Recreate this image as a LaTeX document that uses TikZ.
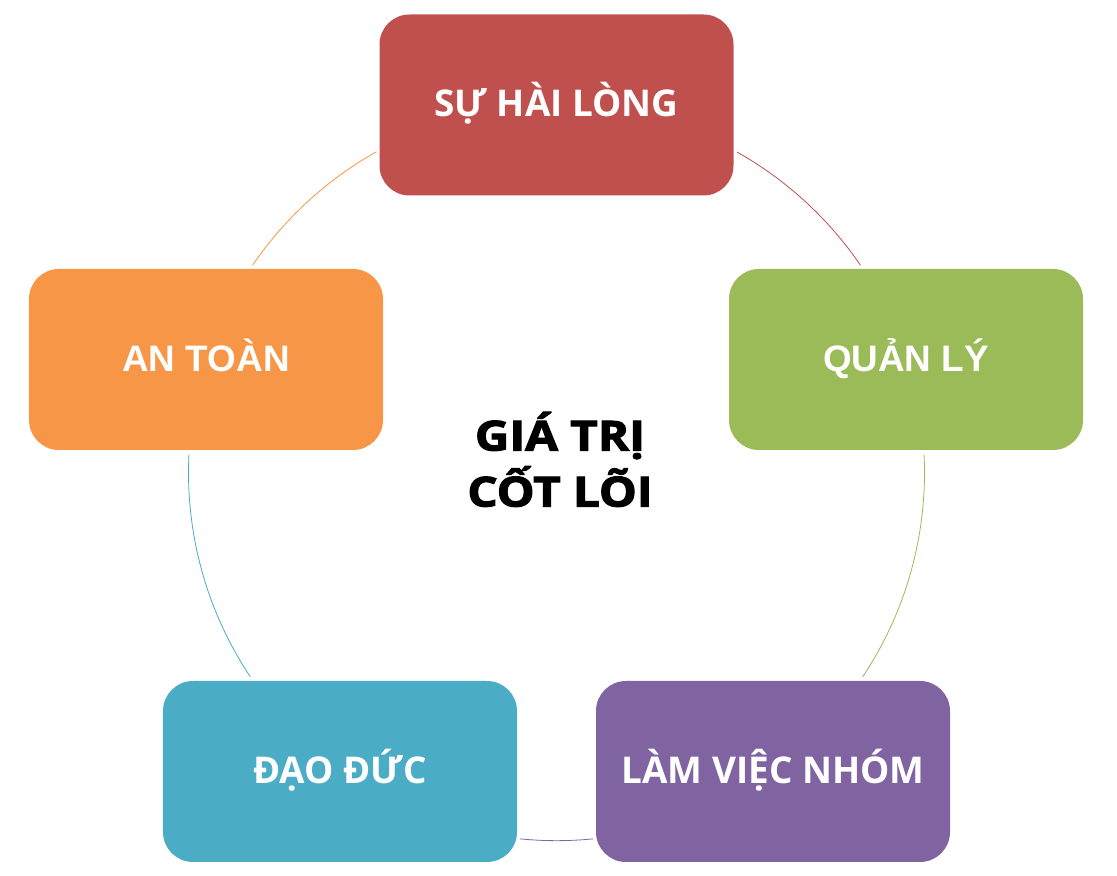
\documentclass[tikz,border=0pt]{standalone}
\usepackage{fontspec}
\usetikzlibrary{calc}
\newfontfamily\osans{Open Sans}
\newfontfamily\osheavy{Open Sans}[FakeBold=2.5]
\newfontfamily\lsans{Liberation Sans}
\definecolor{cred}{HTML}{C0504D}
\definecolor{cgreen}{HTML}{9BBB59}
\definecolor{cpurple}{HTML}{8064A2}
\definecolor{cblue}{HTML}{4BACC6}
\definecolor{corange}{HTML}{F79646}
\begin{document}
\begin{tikzpicture}[x=1bp,y=1bp,
  box/.style={rectangle, rounded corners=30bp, minimum width=354bp, minimum height=181bp, inner sep=0pt, draw=none},
  lbl/.style={anchor=base, inner sep=0pt, text=white, font=\osans\bfseries\fontsize{37}{44}\selectfont},
  lbla/.style={anchor=base, inner sep=0pt, text=white, font=\lsans\bfseries\fontsize{37}{44}\selectfont},
  ctr/.style={anchor=base, inner sep=0pt, text=black, xscale=1.15, font=\osheavy\bfseries\fontsize{41.5}{48}\selectfont},
  ring/.style={line width=0.8bp}]
\useasboundingbox (0,0) rectangle (1117,876);
\coordinate (c) at (556.5,403.3);
% arcs
\draw[ring, cred]    ($(c)+(60.6:368)$) arc[start angle=60.6, end angle=34.3, radius=368];
\draw[ring, cgreen]  ($(c)+(2.8:368)$) arc[start angle=2.8, end angle=-33.7, radius=368];
\draw[ring, cpurple] ($(c)+(-84.3:368)$) arc[start angle=-84.3, end angle=-95.7, radius=368];
\draw[ring, cblue]   ($(c)+(-146.3:368)$) arc[start angle=-146.3, end angle=-182.8, radius=368];
\draw[ring, corange] ($(c)+(145.7:368)$) arc[start angle=145.7, end angle=119.3, radius=368];
% boxes
\node[box, fill=cred]    (top) at (556.5,771) {};
\node[box, fill=cgreen]  (rgt) at (906,516.5) {};
\node[box, fill=cpurple] (brt) at (773,104.5) {};
\node[box, fill=cblue]   (blf) at (340,104.5) {};
\node[box, fill=corange] (lft) at (206,516.5) {};
% labels
\node[lbl]  (ttop) at ([yshift=-12bp]top.center) {SỰ HÀI LÒNG};
\node[lbla] (trgt) at ([yshift=-12bp]rgt.center) {QUẢN LÝ};
\node[lbl]  (tbrt) at ([yshift=-12bp]brt.center) {LÀM VIỆC NHÓM};
\node[lbl]  (tblf) at ([yshift=-12bp]blf.center) {ĐẠO ĐỨC};
\node[lbla] (tlft) at ([yshift=-12bp]lft.center) {AN TOÀN};
% centre
\node[ctr] (c1) at (560,425.5) {GIÁ TRỊ};
\node[ctr] (c2) at (560,369.5) {CỐT LÕI};
\end{tikzpicture}
\end{document}
